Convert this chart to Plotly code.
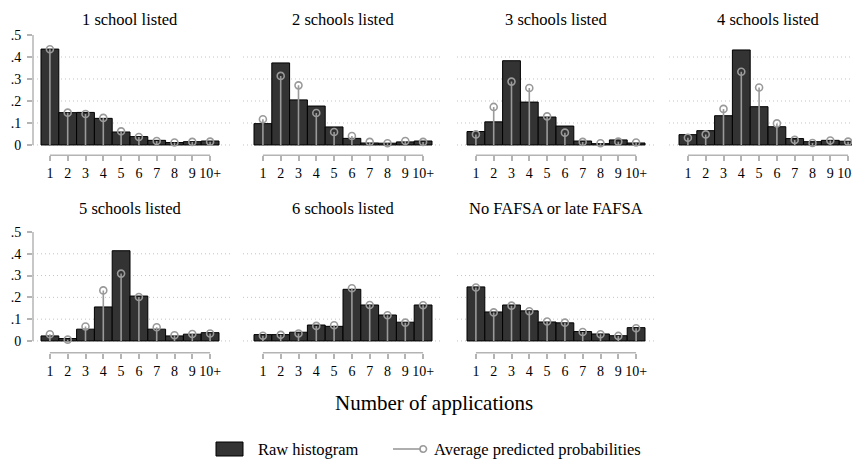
import plotly.graph_objects as go

categories = ["1", "2", "3", "4", "5", "6", "7", "8", "9", "10+"]
positions = [1, 2, 3, 4, 5, 6, 7, 8, 9, 10]
titles = ["1 school listed", "2 schools listed", "3 schools listed", "4 schools listed",
          "5 schools listed", "6 schools listed", "No FAFSA or late FAFSA"]

hist_1 = [0.436, 0.147, 0.148, 0.121, 0.059, 0.038, 0.021, 0.011, 0.015, 0.018]
pred_1 = [0.435, 0.147, 0.141, 0.123, 0.062, 0.036, 0.018, 0.011, 0.014, 0.015]
hist_2 = [0.097, 0.373, 0.205, 0.177, 0.082, 0.030, 0.009, 0.008, 0.014, 0.018]
pred_2 = [0.117, 0.314, 0.271, 0.145, 0.059, 0.041, 0.014, 0.008, 0.018, 0.014]
hist_3 = [0.061, 0.105, 0.383, 0.195, 0.127, 0.086, 0.018, 0.006, 0.023, 0.009]
pred_3 = [0.048, 0.173, 0.288, 0.259, 0.130, 0.056, 0.014, 0.008, 0.015, 0.011]
hist_4 = [0.047, 0.065, 0.133, 0.432, 0.174, 0.083, 0.029, 0.015, 0.021, 0.017]
pred_4 = [0.033, 0.048, 0.164, 0.333, 0.261, 0.098, 0.023, 0.009, 0.020, 0.015]
hist_5 = [0.023, 0.011, 0.054, 0.156, 0.414, 0.206, 0.054, 0.023, 0.031, 0.038]
pred_5 = [0.031, 0.006, 0.066, 0.232, 0.309, 0.202, 0.063, 0.026, 0.032, 0.034]
hist_6 = [0.029, 0.029, 0.040, 0.073, 0.067, 0.237, 0.165, 0.119, 0.086, 0.165]
pred_6 = [0.024, 0.028, 0.034, 0.069, 0.072, 0.242, 0.165, 0.118, 0.084, 0.164]
hist_7 = [0.248, 0.133, 0.165, 0.138, 0.087, 0.083, 0.043, 0.032, 0.024, 0.061]
pred_7 = [0.245, 0.131, 0.162, 0.136, 0.089, 0.084, 0.041, 0.031, 0.023, 0.058]

y_ticks = [0, 0.1, 0.2, 0.3, 0.4, 0.5]
y_tick_text = ["0", ".1", ".2", ".3", ".4", ".5"]
grid_vals = [0, 0.1, 0.2, 0.3, 0.4]
legend_labels = ["Raw histogram", "Average predicted probabilities"]

hists = [hist_1, hist_2, hist_3, hist_4, hist_5, hist_6, hist_7]
preds = [pred_1, pred_2, pred_3, pred_4, pred_5, pred_6, pred_7]

# the page body has an 8px margin, so the figure is drawn 8px smaller and
# all screen pixel positions are shifted by that offset
OFF = 8
W, H = 860 - OFF, 463 - OFF
FONT = "Liberation Serif"
BAR_FILL = "#333333"
LOLLI = "#9a9a9a"
AXIS_C = "#b4b4b4"
GRID_C = "#c4c4c4"


def px_x(p):
    return (p - OFF) / W


def px_y(p):
    return 1 - (p - OFF) / H


unit = 17.8
panel_px = [(33, 41, 230, 0), (243, 254, 442, 0), (457, 467, 655, 0), (669, 679, 860, 0),
            (33, 41, 230, 1), (243, 254, 442, 1), (457, 467, 655, 1)]
rows_px = [(35, 155.3, -0.047), (232, 352.7, -0.054)]

fig = go.Figure()
shapes = []
annotations = []
layout = {}

for i in range(7):
    n = i + 1
    xs = "x" if n == 1 else f"x{n}"
    ys = "y" if n == 1 else f"y{n}"
    xa = "xaxis" if n == 1 else f"xaxis{n}"
    ya = "yaxis" if n == 1 else f"yaxis{n}"
    d, b, e, r = panel_px[i]
    top, bot, ymin = rows_px[r]
    r0 = 0.5 - (b - d) / unit
    r1 = 0.5 + (e - b) / unit
    first_col = (i == 0 or i == 4)

    fig.add_trace(go.Bar(
        x=positions, y=hists[i], width=1, xaxis=xs, yaxis=ys,
        marker=dict(color=BAR_FILL, line=dict(color="#000000", width=1)),
        showlegend=False, hoverinfo="skip"))

    sx, sy = [], []
    for p, v in zip(positions, preds[i]):
        sx += [p, p, None]
        sy += [0, v, None]
    fig.add_trace(go.Scatter(
        x=sx, y=sy, mode="lines", xaxis=xs, yaxis=ys,
        line=dict(color=LOLLI, width=1.6), showlegend=False, hoverinfo="skip"))
    fig.add_trace(go.Scatter(
        x=positions, y=preds[i], mode="markers", xaxis=xs, yaxis=ys,
        marker=dict(symbol="circle-open", size=7, color=LOLLI, line=dict(width=1.6)),
        showlegend=False, hoverinfo="skip"))

    layout[xa] = dict(
        domain=[max(0, px_x(d)), min(1, px_x(e))], range=[r0, r1], anchor=ys,
        tickmode="array", tickvals=positions, ticktext=categories,
        ticks="outside", ticklen=5, tickcolor=AXIS_C, tickwidth=1.5,
        showline=False, showgrid=False, zeroline=False, automargin=False,
        tickfont=dict(family=FONT, size=14, color="#000000"))
    layout[ya] = dict(
        domain=[px_y(bot), px_y(top)], range=[ymin, 0.5], anchor=xs,
        tickmode="array", tickvals=y_ticks, ticktext=y_tick_text,
        ticks="outside" if first_col else "", ticklen=5, tickcolor=AXIS_C, tickwidth=1.5,
        showticklabels=first_col, ticklabelstandoff=3,
        showline=False, showgrid=False, zeroline=False, automargin=False,
        tickfont=dict(family=FONT, size=14, color="#000000"))

    for g in grid_vals:
        shapes.append(dict(type="line", xref=f"{xs} domain", yref=ys, x0=0, x1=1, y0=g, y1=g,
                           line=dict(color=GRID_C, width=1, dash="1px,3px"), layer="below"))
    shapes.append(dict(type="line", xref=xs, yref=f"{ys} domain", x0=positions[0], x1=positions[-1],
                       y0=0, y1=0, line=dict(color=AXIS_C, width=1.5)))
    if first_col:
        shapes.append(dict(type="line", xref=f"{xs} domain", yref=ys, x0=0, x1=0,
                           y0=y_ticks[0], y1=y_ticks[-1], line=dict(color=AXIS_C, width=1.5)))

    if r == 0:
        ty, tanchor = 1.0, "top"
    else:
        ty, tanchor = px_y(208), "middle"
    annotations.append(dict(text=titles[i], xref="paper", yref="paper",
                            x=px_x(b + 89), y=ty, showarrow=False,
                            xanchor="center", yanchor=tanchor,
                            font=dict(family=FONT, size=16.5, color="#000000")))

annotations.append(dict(text="Number of applications", xref="paper", yref="paper",
                        x=px_x(434), y=px_y(403), showarrow=False, xanchor="center", yanchor="middle",
                        font=dict(family=FONT, size=21, color="#000000")))

# manual legend
shapes.append(dict(type="rect", xref="paper", yref="paper",
                   x0=px_x(216), x1=px_x(243), y0=px_y(456), y1=px_y(442),
                   fillcolor=BAR_FILL, line=dict(color="#000000", width=1)))
annotations.append(dict(text=legend_labels[0], xref="paper", yref="paper",
                        x=px_x(256), y=px_y(449), showarrow=False, xanchor="left", yanchor="middle",
                        font=dict(family=FONT, size=16.5, color="#000000")))
shapes.append(dict(type="line", xref="paper", yref="paper",
                   x0=px_x(393), x1=px_x(422), y0=px_y(449), y1=px_y(449),
                   line=dict(color=LOLLI, width=1.6)))
shapes.append(dict(type="circle", xref="paper", yref="paper",
                   x0=px_x(420), x1=px_x(426.5), y0=px_y(452.2), y1=px_y(445.8),
                   line=dict(color=LOLLI, width=1.6), fillcolor="white"))
annotations.append(dict(text=legend_labels[1], xref="paper", yref="paper",
                        x=px_x(432), y=px_y(449), showarrow=False, xanchor="left", yanchor="middle",
                        font=dict(family=FONT, size=16.5, color="#000000")))

fig.update_layout(
    width=W, height=H, margin=dict(l=0, r=0, t=0, b=0, autoexpand=False),
    paper_bgcolor="white", plot_bgcolor="white",
    barmode="overlay", showlegend=False,
    shapes=shapes, annotations=annotations, **layout)

fig.write_html("out.html")
